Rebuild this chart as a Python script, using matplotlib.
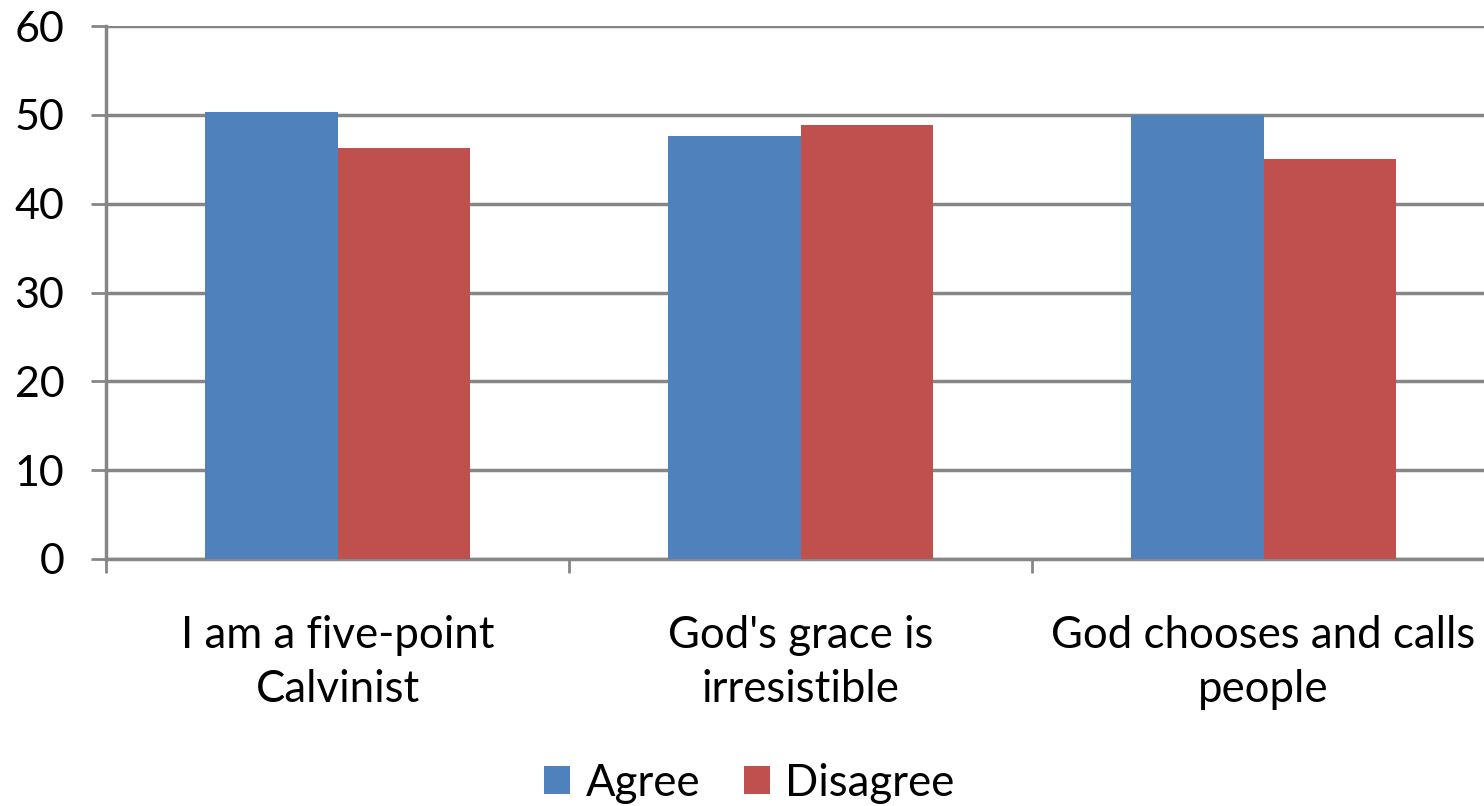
import numpy as np
import matplotlib
matplotlib.use('Agg')
import matplotlib.pyplot as plt

plt.rcParams['font.family'] = ['Lato', 'DejaVu Sans']

categories = ['I am a five-point\nCalvinist',
              "God's grace is\nirresistible",
              'God chooses and calls\npeople']
agree = [50.3, 47.6, 50.0]
disagree = [46.3, 48.8, 45.0]

blue = '#4F81BD'
red = '#C0504D'
grid = '#868686'

fig = plt.figure(figsize=(14.84, 8.06), dpi=100)
ax = fig.add_axes([106 / 1484, 1 - 559 / 806, 1389 / 1484, 533 / 806])

x = np.arange(len(categories))
w = 0.287
ax.bar(x - w / 2, agree, w, color=blue, label='Agree', zorder=3)
ax.bar(x + w / 2, disagree, w, color=red, label='Disagree', zorder=3)

ax.set_xlim(-0.5, len(categories) - 0.5)
ax.set_ylim(0, 60)
ax.set_yticks(range(0, 61, 10))
ax.yaxis.grid(True, color=grid, linewidth=2.5, zorder=0)
ax.tick_params(axis='y', length=11, width=2, color=grid, pad=19,
               labelsize=31)

ax.set_xticks(x)
ax.set_xticklabels(categories, fontsize=31.5, linespacing=1.4)
ax.set_xticks(np.arange(-0.5, len(categories), 1.0), minor=True)
ax.tick_params(axis='x', which='major', length=0, pad=40)
ax.tick_params(axis='x', which='minor', length=10, width=2, color=grid)

for side in ['top', 'right']:
    ax.spines[side].set_visible(False)
for side in ['left', 'bottom']:
    ax.spines[side].set_color(grid)
    ax.spines[side].set_linewidth(2.5)

fig.legend(loc='center', bbox_to_anchor=(0.505, 1 - 783 / 806), ncol=2,
           frameon=False, fontsize=31.5, handlelength=0.6, handleheight=0.6,
           handletextpad=0.35, columnspacing=1.0)

fig.savefig('out.png', dpi=100)
